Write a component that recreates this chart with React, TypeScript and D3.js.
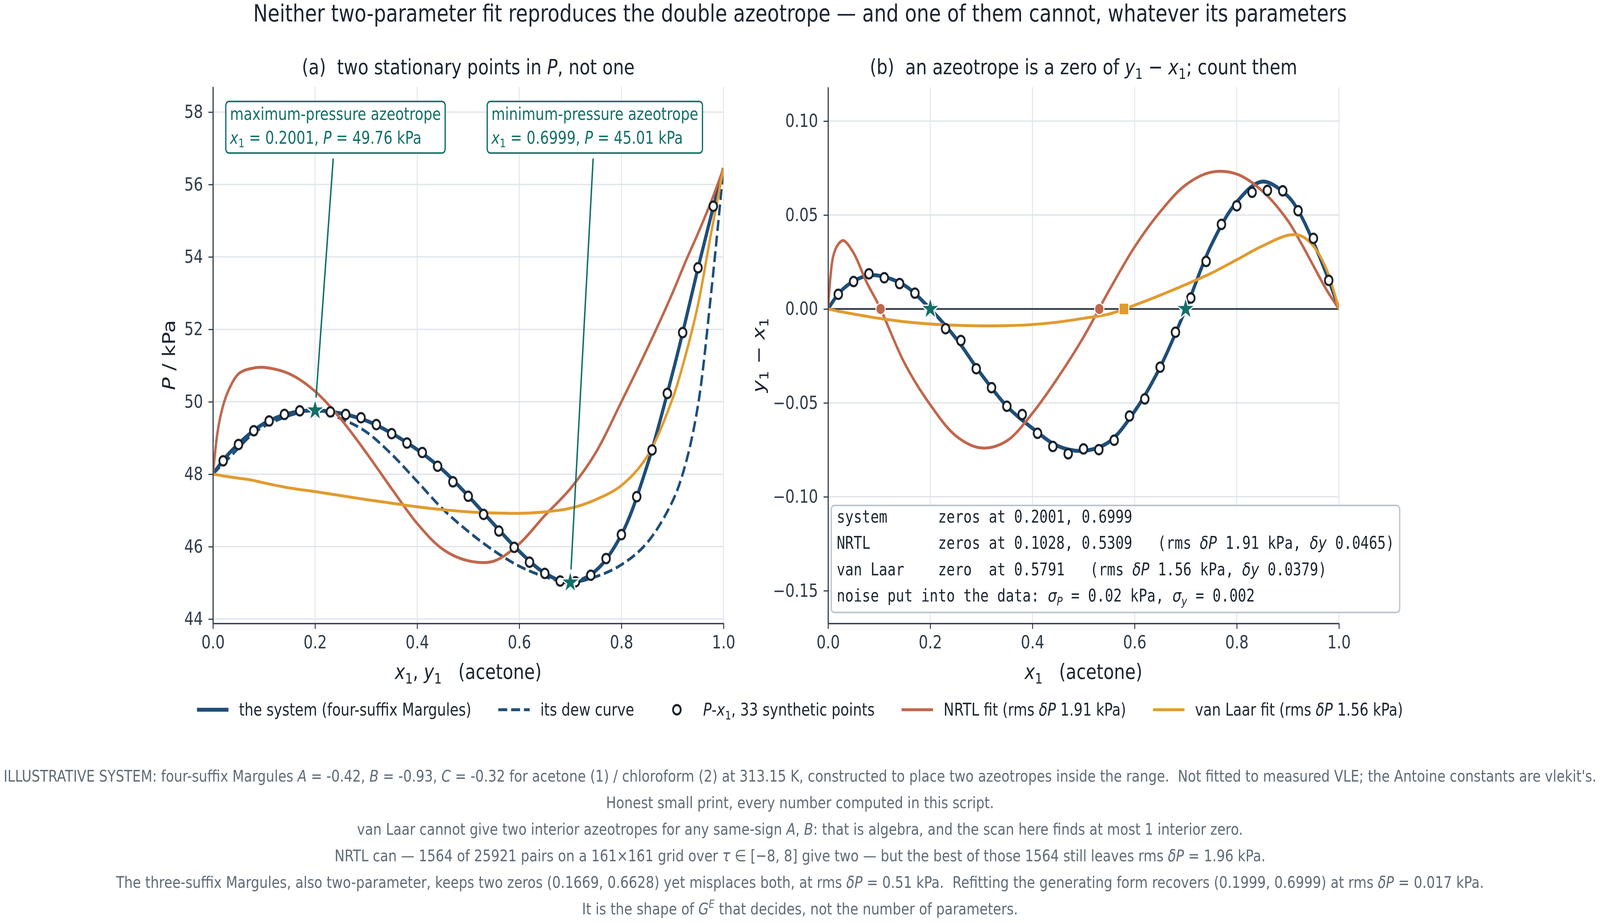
import React, { useEffect, useRef } from 'react';
import * as d3 from 'd3';

const W = 4989;
const H = 2363;

const curveX = [0, 0.01, 0.02, 0.03, 0.05, 0.075, 0.1, 0.15, 0.2, 0.25, 0.3, 0.35, 0.4, 0.45, 0.5, 0.55, 0.6, 0.65, 0.7, 0.75, 0.8, 0.85, 0.9, 0.925, 0.95, 0.975, 1.0];

// panel (a): pressure, kPa
const systemP = [48.0, 48.2, 48.38, 48.55, 48.84, 49.15, 49.4, 49.68, 49.76, 49.68, 49.48, 49.13, 48.68, 48.12, 47.4, 46.62, 45.87, 45.27, 45.01, 45.34, 46.33, 48.22, 50.78, 52.2, 53.69, 55.1, 56.45];
const dewP = [48.0, 48.15, 48.3, 48.43, 48.72, 49.08, 49.32, 49.62, 49.76, 49.54, 49.17, 48.55, 47.8, 47.04, 46.42, 45.89, 45.46, 45.17, 45.01, 45.17, 45.5, 46.1, 47.25, 48.25, 49.9, 52.9, 56.45];
const nrtlP = [48.0, 49.25, 49.9, 50.3, 50.77, 50.92, 50.95, 50.77, 50.29, 49.53, 48.6, 47.6, 46.64, 45.93, 45.61, 45.6, 46.08, 46.86, 47.6, 48.6, 50.0, 51.45, 53.0, 53.85, 54.65, 55.5, 56.45];
const vanLaarP = [48.0, 47.98, 47.95, 47.93, 47.89, 47.84, 47.76, 47.62, 47.52, 47.41, 47.3, 47.2, 47.1, 47.02, 46.96, 46.93, 46.92, 46.96, 47.06, 47.3, 47.69, 48.48, 50.08, 51.25, 52.68, 54.6, 56.45];

// panel (b): y1 - x1
const systemDy = [0, 0.0042, 0.008, 0.0108, 0.0148, 0.0176, 0.0177, 0.0125, 0.0, -0.0155, -0.0348, -0.0518, -0.0635, -0.073, -0.0755, -0.0708, -0.0545, -0.031, 0.0, 0.034, 0.057, 0.0678, 0.06, 0.05, 0.0355, 0.019, 0];
const nrtlDy = [0, 0.028, 0.0345, 0.0364, 0.0298, 0.0145, 0.0016, -0.029, -0.051, -0.0675, -0.074, -0.0702, -0.0555, -0.0365, -0.015, 0.0098, 0.033, 0.0517, 0.066, 0.0728, 0.0718, 0.0628, 0.047, 0.0355, 0.023, 0.0105, 0];
const vanLaarDy = [0, -0.0006, -0.0012, -0.0017, -0.0027, -0.0039, -0.005, -0.0068, -0.008, -0.0087, -0.009, -0.0089, -0.0083, -0.007, -0.005, -0.0027, 0.002, 0.0073, 0.013, 0.019, 0.0262, 0.0335, 0.0392, 0.039, 0.0335, 0.0215, 0];

// the 33 synthetic data points
const sampleX = [0.02, 0.05, 0.08, 0.11, 0.14, 0.17, 0.2, 0.23, 0.26, 0.29, 0.32, 0.35, 0.38, 0.41, 0.44, 0.47, 0.5, 0.53, 0.56, 0.59, 0.62, 0.65, 0.68, 0.71, 0.74, 0.77, 0.8, 0.83, 0.86, 0.89, 0.92, 0.95, 0.98];
const sampleP = [48.37, 48.82, 49.2, 49.47, 49.65, 49.75, 49.76, 49.72, 49.65, 49.56, 49.37, 49.12, 48.86, 48.6, 48.22, 47.79, 47.39, 46.89, 46.43, 45.98, 45.57, 45.26, 45.05, 45.03, 45.21, 45.67, 46.33, 47.38, 48.67, 50.23, 51.91, 53.7, 55.4];
const sampleDy = [0.0078, 0.0146, 0.0187, 0.0166, 0.0135, 0.0084, 0.0003, -0.0105, -0.0168, -0.0318, -0.0419, -0.0518, -0.0562, -0.0662, -0.0732, -0.0771, -0.0745, -0.0749, -0.0699, -0.057, -0.0479, -0.031, -0.0124, 0.0058, 0.0253, 0.045, 0.0549, 0.0621, 0.0631, 0.0629, 0.0523, 0.0376, 0.0152];

// azeotropes and model zeros
const azeoX = [0.2001, 0.6999];
const azeoP = [49.76, 45.01];
const nrtlZeros = [0.1028, 0.5309];
const vanLaarZeros = [0.5791];

const xTicks = [0, 0.2, 0.4, 0.6, 0.8, 1.0];
const pTicks = [44, 46, 48, 50, 52, 54, 56, 58];
const dyTicks = [-0.15, -0.1, -0.05, 0, 0.05, 0.1];

const annotations = [
  { title: 'maximum-pressure azeotrope', value: '*x*_{1} = 0.2001, *P* = 49.76 kPa', at: [0.24, 57.58], idx: 0 },
  { title: 'minimum-pressure azeotrope', value: '*x*_{1} = 0.6999, *P* = 45.01 kPa', at: [0.748, 57.58], idx: 1 },
];

const summaryLines = [
  'system      zeros at 0.2001, 0.6999',
  'NRTL        zeros at 0.1028, 0.5309   (rms *δP* 1.91 kPa, *δy* 0.0465)',
  'van Laar    zero  at 0.5791   (rms *δP* 1.56 kPa, *δy* 0.0379)',
  'noise put into the data: *σ*_{*P*} = 0.02 kPa, *σ*_{*y*} = 0.002',
];

const legendLabels = [
  'the system (four-suffix Margules)',
  'its dew curve',
  '*P*-*x*_{1}, 33 synthetic points',
  'NRTL fit (rms *δP* 1.91 kPa)',
  'van Laar fit (rms *δP* 1.56 kPa)',
];

const footerLines = [
  "ILLUSTRATIVE SYSTEM: four-suffix Margules *A* = -0.42, *B* = -0.93, *C* = -0.32 for acetone (1) / chloroform (2) at 313.15 K, constructed to place two azeotropes inside the range.  Not fitted to measured VLE; the Antoine constants are vlekit's.",
  'Honest small print, every number computed in this script.',
  'van Laar cannot give two interior azeotropes for any same-sign *A*, *B*: that is algebra, and the scan here finds at most 1 interior zero.',
  'NRTL can — 1564 of 25921 pairs on a 161×161 grid over *τ* ∈ [−8, 8] give two — but the best of those 1564 still leaves rms *δP* = 1.96 kPa.',
  'The three-suffix Margules, also two-parameter, keeps two zeros (0.1669, 0.6628) yet misplaces both, at rms *δP* = 0.51 kPa.  Refitting the generating form recovers (0.1999, 0.6999) at rms *δP* = 0.017 kPa.',
  'It is the shape of *G*^{*E*} that decides, not the number of parameters.',
];

const FONT = "'DejaVu Sans', sans-serif";
const MONO = "'DejaVu Sans Mono', monospace";
const C = {
  ink: '#1c2530',
  axis: '#2f3b48',
  grid: '#dde2e7',
  system: '#1f4e79',
  nrtl: '#c0674c',
  vanLaar: '#e29b2e',
  teal: '#127068',
  note: '#5f6b77',
  boxEdge: '#bcc4cc',
  point: '#1b232b',
};

type Seg = { t: string; it?: boolean; sub?: boolean; sup?: boolean };

// tiny markup: *italic*, _{sub}, ^{sup}
const parseRich = (s: string): Seg[] =>
  s
    .split(/(\*[^*]+\*|_\{[^}]+\}|\^\{[^}]+\})/)
    .filter((p) => p.length > 0)
    .map((p) => {
      if (p.startsWith('_{') || p.startsWith('^{')) {
        const inner = p.slice(2, -1);
        const it = inner.startsWith('*');
        return { t: it ? inner.slice(1, -1) : inner, it, sub: p[0] === '_', sup: p[0] === '^' };
      }
      if (p.startsWith('*')) return { t: p.slice(1, -1), it: true };
      return { t: p };
    });

const addRich = (text: any, s: string, fs: number, italicFamily?: string) => {
  let shift = 0;
  parseRich(s).forEach((seg) => {
    const target = seg.sub ? fs * 0.22 : seg.sup ? -fs * 0.4 : 0;
    const ts = text
      .append('tspan')
      .attr('dy', target - shift)
      .attr('font-size', seg.sub || seg.sup ? fs * 0.7 : fs)
      .text(seg.t);
    if (seg.it) {
      ts.attr('font-style', 'italic');
      if (italicFamily) ts.attr('font-family', italicFamily);
    }
    shift = target;
  });
  return text;
};

const App: React.FC = () => {
  const svgRef = useRef<SVGSVGElement | null>(null);

  useEffect(() => {
    if (!svgRef.current) return;
    document.body.style.margin = '0';
    document.body.style.overflow = 'hidden';
    const svg = d3.select(svgRef.current);
    svg.selectAll('*').remove();
    svg.attr('font-family', FONT).attr('fill', C.ink);
    svg.append('rect').attr('width', W).attr('height', H).attr('fill', '#ffffff');

    const xL = d3.scaleLinear().domain([0, 1]).range([664, 2256]);
    const yL = d3.scaleLinear().domain([43.88, 58.7]).range([1596, 222]);
    const xR = d3.scaleLinear().domain([0, 1]).range([2582, 4175]);
    const yR = d3.scaleLinear().domain([-0.1674, 0.1181]).range([1596, 223]);

    const defs = svg.append('defs');
    [['clipA', xL, yL], ['clipB', xR, yR]].forEach(([id, x, y]: any) => {
      defs
        .append('clipPath')
        .attr('id', id)
        .append('rect')
        .attr('x', x.range()[0])
        .attr('y', y.range()[1])
        .attr('width', x.range()[1] - x.range()[0])
        .attr('height', y.range()[0] - y.range()[1]);
    });

    const grid = (x: any, y: any, yTicks: number[]) => {
      const g = svg.append('g');
      g.selectAll('line.h')
        .data(yTicks)
        .join('line')
        .attr('x1', x.range()[0])
        .attr('x2', x.range()[1])
        .attr('y1', (d) => y(d))
        .attr('y2', (d) => y(d))
        .attr('stroke', C.grid)
        .attr('stroke-width', 3);
      g.selectAll('line.v')
        .data(xTicks)
        .join('line')
        .attr('x1', (d) => x(d))
        .attr('x2', (d) => x(d))
        .attr('y1', y.range()[0])
        .attr('y2', y.range()[1])
        .attr('stroke', C.grid)
        .attr('stroke-width', 2.5);
    };

    const axes = (x: any, y: any, yTicks: number[], yFmt: (d: any) => string) => {
      const ay = svg
        .append('g')
        .attr('transform', `translate(${x.range()[0]},0)`)
        .call(d3.axisLeft(y).tickValues(yTicks).tickFormat(yFmt).tickSize(14).tickPadding(17).tickSizeOuter(0));
      const ax = svg
        .append('g')
        .attr('transform', `translate(0,${y.range()[0]})`)
        .call(d3.axisBottom(x).tickValues(xTicks).tickFormat(d3.format('.1f')).tickSize(14).tickPadding(17).tickSizeOuter(0));
      [ay, ax].forEach((a) => {
        a.attr('font-size', 46).attr('font-family', FONT).attr('color', C.axis);
        a.select('.domain').attr('stroke-width', 3.5);
        a.selectAll('.tick line').attr('stroke-width', 3);
      });
    };

    const curve = (x: any, y: any, vals: number[]) =>
      d3
        .line<number>()
        .x((_, i) => x(curveX[i]))
        .y((d) => y(d))
        .curve(d3.curveCatmullRom.alpha(0.5))(vals);

    const star = d3.symbol(d3.symbolStar, 1079)();
    const square = d3.symbol(d3.symbolSquare, 900)();

    // ---------- panel (a)
    grid(xL, yL, pTicks);
    const pa = svg.append('g').attr('clip-path', 'url(#clipA)');
    pa.append('path').attr('d', curve(xL, yL, dewP)).attr('fill', 'none').attr('stroke', C.system).attr('stroke-width', 7.5).attr('stroke-dasharray', '28 12');
    pa.append('path').attr('d', curve(xL, yL, systemP)).attr('fill', 'none').attr('stroke', C.system).attr('stroke-width', 10);
    pa.append('path').attr('d', curve(xL, yL, nrtlP)).attr('fill', 'none').attr('stroke', C.nrtl).attr('stroke-width', 7.5);
    pa.append('path').attr('d', curve(xL, yL, vanLaarP)).attr('fill', 'none').attr('stroke', C.vanLaar).attr('stroke-width', 7.5);
    pa.selectAll('circle.pt')
      .data(sampleX)
      .join('circle')
      .attr('cx', (d) => xL(d))
      .attr('cy', (_, i) => yL(sampleP[i]))
      .attr('r', 12)
      .attr('fill', '#ffffff')
      .attr('stroke', C.point)
      .attr('stroke-width', 5.5);

    // annotations with boxes and leader lines
    annotations.forEach((a) => {
      const cx = xL(a.at[0]);
      const cy = yL(a.at[1]);
      const g = svg.append('g');
      const fs = 43.75;
      const t1 = g.append('text').attr('font-size', fs).attr('fill', C.teal).style('white-space', 'pre').attr('y', cy - 19);
      addRich(t1, a.title, fs);
      const t2 = g.append('text').attr('font-size', fs).attr('fill', C.teal).style('white-space', 'pre').attr('y', cy + 42);
      addRich(t2, a.value, fs);
      const wMax = Math.max((t1.node() as any).getComputedTextLength(), (t2.node() as any).getComputedTextLength());
      const left = cx - wMax / 2;
      t1.attr('x', left);
      t2.attr('x', left);
      const bottom = cy + 66;
      g.insert('rect', 'text')
        .attr('x', left - 13)
        .attr('y', cy - 66)
        .attr('width', wMax + 26)
        .attr('height', 132)
        .attr('rx', 10)
        .attr('fill', '#ffffff')
        .attr('stroke', C.teal)
        .attr('stroke-width', 4);
      const tx = xL(azeoX[a.idx]);
      const ty = yL(azeoP[a.idx]);
      const len = Math.hypot(tx - cx, ty - cy);
      const ux = (tx - cx) / len;
      const uy = (ty - cy) / len;
      const tEdge = (bottom - cy) / uy + 14;
      svg
        .append('line')
        .attr('x1', cx + ux * tEdge)
        .attr('y1', cy + uy * tEdge)
        .attr('x2', tx - ux * 33)
        .attr('y2', ty - uy * 33)
        .attr('stroke', C.teal)
        .attr('stroke-width', 4.5);
    });

    svg
      .append('g')
      .selectAll('path')
      .data(azeoX)
      .join('path')
      .attr('d', star)
      .attr('transform', (d, i) => `translate(${xL(d)},${yL(azeoP[i])})`)
      .attr('fill', C.teal)
      .attr('stroke', '#ffffff')
      .attr('stroke-width', 3.5);

    axes(xL, yL, pTicks, d3.format('.0f'));

    // ---------- panel (b)
    grid(xR, yR, dyTicks);
    const pb = svg.append('g').attr('clip-path', 'url(#clipB)');
    pb.append('line').attr('x1', xR(0)).attr('x2', xR(1)).attr('y1', yR(0)).attr('y2', yR(0)).attr('stroke', C.axis).attr('stroke-width', 4.5);
    pb.append('path').attr('d', curve(xR, yR, systemDy)).attr('fill', 'none').attr('stroke', C.system).attr('stroke-width', 10);
    pb.append('path').attr('d', curve(xR, yR, nrtlDy)).attr('fill', 'none').attr('stroke', C.nrtl).attr('stroke-width', 7.5);
    pb.append('path').attr('d', curve(xR, yR, vanLaarDy)).attr('fill', 'none').attr('stroke', C.vanLaar).attr('stroke-width', 7.5);
    pb.selectAll('circle.pt')
      .data(sampleX)
      .join('circle')
      .attr('cx', (d) => xR(d))
      .attr('cy', (_, i) => yR(sampleDy[i]))
      .attr('r', 12)
      .attr('fill', '#ffffff')
      .attr('stroke', C.point)
      .attr('stroke-width', 5.5);
    svg
      .append('g')
      .selectAll('circle')
      .data(nrtlZeros)
      .join('circle')
      .attr('cx', (d) => xR(d))
      .attr('cy', yR(0))
      .attr('r', 14.5)
      .attr('fill', C.nrtl)
      .attr('stroke', '#ffffff')
      .attr('stroke-width', 3);
    svg
      .append('g')
      .selectAll('path')
      .data(vanLaarZeros)
      .join('path')
      .attr('d', square)
      .attr('transform', (d) => `translate(${xR(d)},${yR(0)})`)
      .attr('fill', C.vanLaar)
      .attr('stroke', '#ffffff')
      .attr('stroke-width', 3);
    svg
      .append('g')
      .selectAll('path')
      .data(azeoX)
      .join('path')
      .attr('d', star)
      .attr('transform', (d) => `translate(${xR(d)},${yR(0)})`)
      .attr('fill', C.teal)
      .attr('stroke', '#ffffff')
      .attr('stroke-width', 3.5);

    axes(xR, yR, dyTicks, d3.format('.2f'));

    // summary box
    {
      const fs = 43.75;
      const g = svg.append('g');
      const x0 = xR(0) + 27;
      const base = yR.range()[0];
      const offs = [258, 190.5, 123, 56];
      const texts = summaryLines.map((l, i) => {
        const t = g.append('text').attr('x', x0).attr('y', base - offs[i]).attr('font-family', MONO).attr('font-size', fs).attr('fill', C.ink).style('white-space', 'pre');
        addRich(t, l, fs, FONT);
        return t;
      });
      const wMax = Math.max(...texts.map((t) => (t.node() as any).getComputedTextLength()));
      g.insert('rect', 'text')
        .attr('x', x0 - 17)
        .attr('y', base - 302)
        .attr('width', wMax + 34)
        .attr('height', 274)
        .attr('rx', 10)
        .attr('fill', '#ffffff')
        .attr('fill-opacity', 0.92)
        .attr('stroke', C.boxEdge)
        .attr('stroke-width', 4);
    }

    // ---------- titles and labels
    const label = (s: string, x: number, y: number, fs: number, rotate = false, color = C.ink) => {
      const t = svg
        .append('text')
        .attr('text-anchor', 'middle')
        .attr('font-size', fs)
        .attr('fill', color)
        .style('white-space', 'pre')
        .attr('transform', rotate ? `translate(${x},${y}) rotate(-90)` : `translate(${x},${y})`);
      addRich(t, s, fs);
      return t;
    };

    label('Neither two-parameter fit reproduces the double azeotrope — and one of them cannot, whatever its parameters', W / 2, 55, 60.5);
    label('(a)  two stationary points in *P*, not one', (xL(0) + xL(1)) / 2, 190, 54);
    label('(b)  an azeotrope is a zero of *y*_{1} − *x*_{1}; count them', (xR(0) + xR(1)) / 2, 190, 54);
    label('*x*_{1}, *y*_{1}   (acetone)', (xL(0) + xL(1)) / 2, 1738, 54);
    label('*x*_{1}   (acetone)', (xR(0) + xR(1)) / 2, 1738, 54);
    label('*P* / kPa', 546, (yL.range()[0] + yL.range()[1]) / 2, 54, true);
    label('*y*_{1} − *x*_{1}', 2384, (yR.range()[0] + yR.range()[1]) / 2, 54, true);

    // ---------- legend
    {
      const fs = 43.75;
      const ly = 1817;
      const handle = 98;
      const pad = 33;
      const gap = 84;
      const g = svg.append('g');
      const texts = legendLabels.map((l) => {
        const t = g.append('text').attr('font-size', fs).attr('y', ly + 15).style('white-space', 'pre').attr('fill', C.ink);
        addRich(t, l, fs);
        return t;
      });
      const widths = texts.map((t) => (t.node() as any).getComputedTextLength());
      const total = d3.sum(widths) + widths.length * (handle + pad) + (widths.length - 1) * gap;
      let x = W / 2 - total / 2;
      widths.forEach((w, i) => {
        const hx0 = x;
        const hx1 = x + handle;
        if (i === 2) {
          g.append('circle').attr('cx', (hx0 + hx1) / 2).attr('cy', ly).attr('r', 12).attr('fill', '#ffffff').attr('stroke', C.point).attr('stroke-width', 5.5);
        } else {
          const col = i < 2 ? C.system : i === 3 ? C.nrtl : C.vanLaar;
          const ln = g.append('line').attr('x1', hx0).attr('x2', hx1).attr('y1', ly).attr('y2', ly).attr('stroke', col).attr('stroke-width', i === 0 ? 10 : 7.5);
          if (i === 1) ln.attr('stroke-dasharray', '28 12');
        }
        texts[i].attr('x', hx1 + pad);
        x = hx1 + pad + w + gap;
      });
    }

    // ---------- footer notes
    const footBase = [2001, 2069, 2137, 2205, 2273, 2341];
    footerLines.forEach((l, i) => label(l, W / 2, footBase[i], 41.7, false, C.note));
  }, []);

  // the browser caps the viewport width, so the drawing is stretched to fill it exactly
  return (
    <svg
      ref={svgRef}
      viewBox={`0 0 ${W} ${H}`}
      preserveAspectRatio="none"
      style={{ position: 'fixed', left: 0, top: 0, width: '100vw', height: '100vh', display: 'block' }}
    />
  );
};

export default App;
